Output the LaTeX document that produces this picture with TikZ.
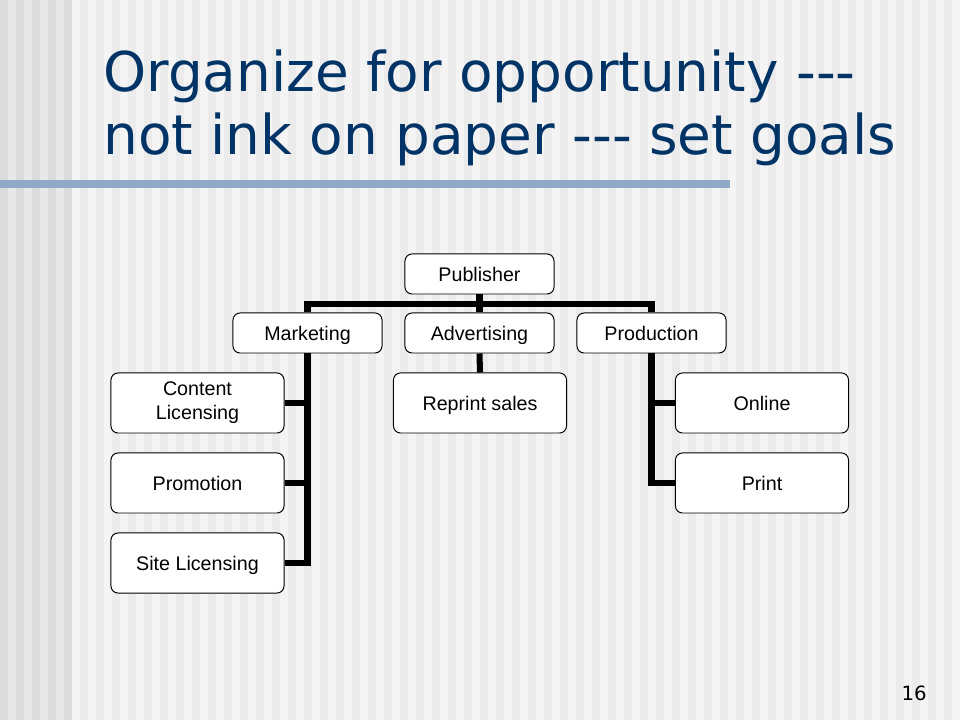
\documentclass[tikz,border=0pt]{standalone}
\usepackage{fontspec}
\usepackage{tikz}
\usetikzlibrary{positioning}
\newfontfamily\titlefont{DejaVu Sans}
\newfontfamily\boxfont{Liberation Sans}
\newcommand{\boxstrut}{\rule[-3pt]{0pt}{16pt}}
\definecolor{navy}{HTML}{003366}
\definecolor{barblue}{HTML}{8FA9C6}
\definecolor{lightl}{HTML}{E8E8E8}
\definecolor{darkl}{HTML}{DCDCDC}
\definecolor{lightr}{HTML}{F4F4F4}
\definecolor{darkr}{HTML}{EBEBEB}
\tikzset{box/.style = {draw, fill = white, rounded corners = 5pt, line width = 0.7pt,
                       minimum width = 3.725cm, minimum height = 1cm, inner sep = 0,
                       align = center, font = \boxfont\fontsize{14}{17}\selectfont,
                       execute at begin node = \boxstrut, execute at end node = \boxstrut}}
\tikzset{bigbox/.style = {box, minimum width = 4.325cm, minimum height = 1.5cm}}
\tikzset{link/.style = {line width = 4.3pt, black}}
\tikzset{title/.style = {anchor = base west, inner sep = 0, text = navy,
                         font = \titlefont\fontsize{39}{45}\selectfont}}

\begin{document}
\begin{tikzpicture}[x = 0.025cm, y = -0.025cm]
    \useasboundingbox (0, 0) rectangle (960, 720);
    \fill [lightr] (0, 0) rectangle (960, 720);
    \foreach \i in {0, 2, ..., 118} {
      \fill [darkr] (8*\i, 0) rectangle +(8, 720);
    }
    \fill [lightl] (0, 0) rectangle (72, 720);
    \foreach \i in {0, 2, ..., 8} {
      \fill [darkl] (8*\i, 0) rectangle +(8, 720);
    }
    \fill [barblue] (0, 180) rectangle (730, 188);

    \node [title] (t1) at (103, 92) {Organize for opportunity ---};
    \node [title] (t2) at (103, 155) {not ink on paper --- set goals};

    \node [box] (pub) at (479.5, 274) {Publisher};
    \node [box] (mkt) at (307.5, 333) {Marketing};
    \node [box] (adv) at (479.5, 333) {Advertising};
    \node [box] (prod) at (651.5, 333) {Production};
    \node [bigbox] (cont) at (197.5, 403) {Content\\Licensing};
    \node [bigbox] (promo) at (197.5, 483) {Promotion};
    \node [bigbox] (site) at (197.5, 563) {Site Licensing};
    \node [bigbox] (rep) at (480, 403) {Reprint sales};
    \node [bigbox] (online) at (762, 403) {Online};
    \node [bigbox] (print) at (762, 483) {Print};
    \coordinate (bus) at (0, 304);

    \draw [link] (pub.south) -- (adv.north);
    \draw [link] (mkt.north) -- (mkt.north |- bus) -- (prod.north |- bus) -- (prod.north);
    \draw [link] (adv.south) -- (rep.north);
    \draw [link] (mkt.south) -- (mkt.south |- site.east) -- (site.east);
    \draw [link] (cont.east) -- (cont.east -| mkt.south);
    \draw [link] (promo.east) -- (promo.east -| mkt.south);
    \draw [link] (prod.south) -- (prod.south |- print.west) -- (print.west);
    \draw [link] (online.west) -- (online.west -| prod.south);

    \node [anchor = base east, inner sep = 0, font = \titlefont\fontsize{14}{17}\selectfont] (num) at (927, 700) {16};
  \end{tikzpicture}
\end{document}
